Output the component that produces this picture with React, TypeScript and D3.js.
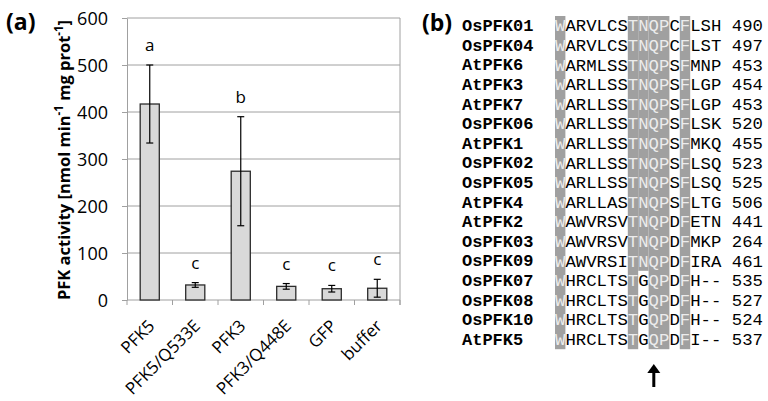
import React, { useEffect, useRef } from "react";
import * as d3 from "d3";

// panel (a): PFK activity
const categories = ["PFK5", "PFK5/Q533E", "PFK3", "PFK3/Q448E", "GFP", "buffer"];
const means = [417, 32, 274, 29, 24, 25];
const errors = [83, 5, 116, 6, 7, 19];
const groups = ["a", "c", "b", "c", "c", "c"];
const yTicks = [0, 100, 200, 300, 400, 500, 600];

// panel (b): alignment
const names = [
  "OsPFK01", "OsPFK04", "AtPFK6", "AtPFK3", "AtPFK7", "OsPFK06", "AtPFK1", "OsPFK02", "OsPFK05",
  "AtPFK4", "AtPFK2", "OsPFK03", "OsPFK09", "OsPFK07", "OsPFK08", "OsPFK10", "AtPFK5",
];
const sequences = [
  "WARVLCSTNQPCFLSH", "WARVLCSTNQPCFLST", "WARMLSSTNQPSFMNP", "WARLLSSTNQPSFLGP",
  "WARLLSSTNQPSFLGP", "WARLLSSTNQPSFLSK", "WARLLSSTNQPSFMKQ", "WARLLSSTNQPSFLSQ",
  "WARLLSSTNQPSFLSQ", "WARLLASTNQPSFLTG", "WAWVRSVTNQPDFETN", "WAWVRSVTNQPDFMKP",
  "WAWVRSITNQPDFIRA", "WHRCLTSTGQPDFH--", "WHRCLTSTGQPDFH--", "WHRCLTSTGQPDFH--",
  "WHRCLTSTGQPDFI--",
];
const positions = [490, 497, 453, 454, 453, 520, 455, 523, 525, 506, 441, 264, 461, 535, 527, 524, 537];
const shadedCols = [0, 7, 8, 9, 10, 12];
const markedCol = 9;

const App = () => {
  const svgRef = useRef<SVGSVGElement>(null);

  useEffect(() => {
    const svg = d3.select(svgRef.current);
    svg.selectAll("*").remove();

    const font = "'Open Sans', sans-serif";
    const mono = "'Liberation Mono', 'DejaVu Sans Mono', monospace";
    const grid = "#a0a0a0";

    // ---------- (a) bar chart ----------
    const x = d3.scaleBand().domain(categories).range([127, 400]).paddingInner(0.58).paddingOuter(0.29);
    const y = d3.scaleLinear().domain([0, 600]).range([300, 18]);
    const a = svg.append("g");

    // gridlines
    a.selectAll(".grid")
      .data(yTicks.slice(1))
      .enter()
      .append("line")
      .attr("x1", 127)
      .attr("x2", 400)
      .attr("y1", (d) => y(d))
      .attr("y2", (d) => y(d))
      .attr("stroke", grid);

    // right border
    a.append("line").attr("x1", 400).attr("x2", 400).attr("y1", y(600)).attr("y2", y(0) + 5).attr("stroke", grid);

    // y axis
    const yAxis = a
      .append("g")
      .attr("transform", "translate(127,0)")
      .call(d3.axisLeft(y).tickValues(yTicks).tickSize(5).tickSizeOuter(0).tickPadding(14));
    yAxis.selectAll("path, line").attr("stroke", grid);
    yAxis.selectAll("text").attr("font-family", font).attr("font-size", 18).attr("fill", "#000").attr("dy", "0.36em");

    // x axis with boundary ticks
    a.append("line").attr("x1", 127).attr("x2", 400).attr("y1", y(0)).attr("y2", y(0)).attr("stroke", grid);
    const step = x.step();
    const bounds = categories.map((c) => x(c)! + x.bandwidth() / 2 - step / 2).concat([400]);
    a.selectAll(".xtick")
      .data(bounds)
      .enter()
      .append("line")
      .attr("x1", (d) => d)
      .attr("x2", (d) => d)
      .attr("y1", y(0))
      .attr("y2", y(0) + 5)
      .attr("stroke", grid);

    // bars
    a.selectAll(".bar")
      .data(categories)
      .enter()
      .append("rect")
      .attr("x", (d) => x(d)!)
      .attr("y", (d, i) => y(means[i]))
      .attr("width", x.bandwidth())
      .attr("height", (d, i) => y(0) - y(means[i]))
      .attr("fill", "#d9d9d9")
      .attr("stroke", "#2b2b2b")
      .attr("stroke-width", 1.3);

    // error bars
    const eb = a.selectAll(".err").data(categories).enter().append("g");
    const cx = (d: string) => x(d)! + x.bandwidth() / 2;
    eb.append("line")
      .attr("x1", cx)
      .attr("x2", cx)
      .attr("y1", (d, i) => y(means[i] + errors[i]))
      .attr("y2", (d, i) => y(means[i] - errors[i]))
      .attr("stroke", "#000")
      .attr("stroke-width", 1.2);
    [1, -1].forEach((s) => {
      eb.append("line")
        .attr("x1", (d) => cx(d) - 3.5)
        .attr("x2", (d) => cx(d) + 3.5)
        .attr("y1", (d, i) => y(means[i] + s * errors[i]))
        .attr("y2", (d, i) => y(means[i] + s * errors[i]))
        .attr("stroke", "#000")
        .attr("stroke-width", 1.2);
    });

    // group letters
    a.selectAll(".grp")
      .data(categories)
      .enter()
      .append("text")
      .attr("x", cx)
      .attr("y", (d, i) => y(means[i] + errors[i]) - 14)
      .attr("text-anchor", "middle")
      .attr("font-family", font)
      .attr("font-size", 17)
      .text((d, i) => groups[i]);

    // x labels
    a.selectAll(".xl")
      .data(categories)
      .enter()
      .append("text")
      .attr("transform", (d) => `translate(${cx(d) + 6},${y(0) + 27}) rotate(-45)`)
      .attr("text-anchor", "end")
      .attr("font-family", font)
      .attr("font-size", 17)
      .text((d) => d);

    // y label
    const yl = a
      .append("text")
      .attr("transform", `translate(70,${(y(0) + y(600)) / 2 + 1}) rotate(-90)`)
      .attr("text-anchor", "middle")
      .attr("font-family", font)
      .attr("font-size", 16.5)
      .attr("font-weight", "bold");
    yl.append("tspan").text("PFK activity [nmol min");
    yl.append("tspan").attr("dy", -7).attr("font-size", 11.5).text("-1");
    yl.append("tspan").attr("dy", 7).text(" mg prot");
    yl.append("tspan").attr("dy", -7).attr("font-size", 11.5).text("-1");
    yl.append("tspan").attr("dy", 7).text("]");

    svg.append("text").attr("x", 6).attr("y", 30).attr("font-family", font).attr("font-size", 23).attr("font-weight", "bold").text("(a)");

    // ---------- (b) alignment ----------
    const b = svg.append("g");
    const rowY = d3.scaleBand().domain(names).range([16, 16 + 17 * 19.6]);
    const colX = d3.scaleLinear().domain([0, 1]).range([555, 565.4]);
    const cw = colX(1) - colX(0);
    const isShaded = (r: number, c: number) => shadedCols.includes(c) && sequences[r][c] === sequences[0][c];

    // shading runs per column
    shadedCols.forEach((c) => {
      let start = -1;
      for (let r = 0; r <= names.length; r++) {
        const on = r < names.length && isShaded(r, c);
        if (on && start < 0) start = r;
        if (!on && start >= 0) {
          b.append("rect")
            .attr("x", colX(c))
            .attr("y", rowY(names[start])!)
            .attr("width", cw)
            .attr("height", rowY(names[r - 1])! + rowY.bandwidth() - rowY(names[start])!)
            .attr("fill", "#a0a0a0");
          start = -1;
        }
      }
    });

    const rows = b.selectAll(".row").data(names).enter().append("g");
    rows.append("text")
      .attr("x", 462)
      .attr("y", (d) => rowY(d)! + rowY.bandwidth() / 2)
      .attr("dy", "0.32em")
      .attr("font-family", mono)
      .attr("font-size", 17)
      .attr("font-weight", "bold")
      .text((d) => d);

    names.forEach((n, r) => {
      const cy = rowY(n)! + rowY.bandwidth() / 2;
      b.selectAll(null)
        .data(sequences[r].split(""))
        .enter()
        .append("text")
        .attr("x", (d, c) => colX(c) + cw / 2)
        .attr("y", cy)
        .attr("dy", "0.32em")
        .attr("text-anchor", "middle")
        .attr("font-family", mono)
        .attr("font-size", 17.3)
        .attr("fill", (d, c) => (isShaded(r, c) ? "#ececec" : "#000"))
        .text((d) => d);
      b.append("text")
        .attr("x", colX(sequences[r].length + 1))
        .attr("y", cy)
        .attr("dy", "0.32em")
        .attr("font-family", mono)
        .attr("font-size", 17.3)
        .text(positions[r]);
    });

    // arrow under marked column
    const ax = colX(markedCol) + cw / 2;
    b.append("rect").attr("x", ax - 1.5).attr("y", 371).attr("width", 3).attr("height", 16).attr("fill", "#000");
    b.append("path")
      .attr("d", d3.line()([[ax - 6.5, 373], [ax, 364], [ax + 6.5, 373]]) + "Z")
      .attr("fill", "#000");

    svg.append("text").attr("x", 422).attr("y", 31).attr("font-family", font).attr("font-size", 23).attr("font-weight", "bold").text("(b)");
  }, []);

  return <svg ref={svgRef} width={768} height={401} style={{ position: "absolute", left: 0, top: 0, background: "#fff" }}></svg>;
};

export default App;
